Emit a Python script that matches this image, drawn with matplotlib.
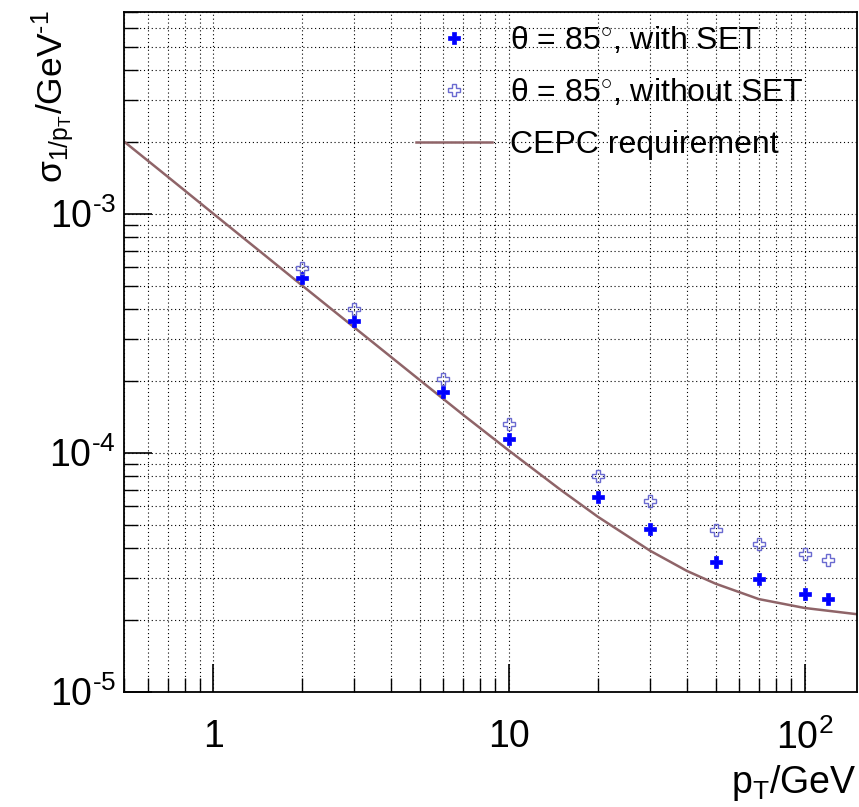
import numpy as np
import matplotlib
matplotlib.use("Agg")
import matplotlib.pyplot as plt
from matplotlib.ticker import FixedLocator, FixedFormatter, NullFormatter

plt.rcParams['font.family'] = ['Liberation Sans', 'DejaVu Sans']
plt.rcParams['mathtext.fontset'] = 'custom'
plt.rcParams['mathtext.rm'] = 'Liberation Sans'
plt.rcParams['mathtext.it'] = 'Liberation Sans:italic'
plt.rcParams['mathtext.bf'] = 'Liberation Sans:bold'

# pT points (GeV)
pt = [2, 3, 6, 10, 20, 30, 50, 70, 100, 120]
# resolution with SET
res_set = [5.4e-4, 3.55e-4, 1.8e-4, 1.14e-4, 6.5e-5, 4.8e-5, 3.5e-5, 2.96e-5, 2.56e-5, 2.44e-5]
# resolution without SET
res_noset = [5.9e-4, 3.98e-4, 2.03e-4, 1.32e-4, 8.0e-5, 6.25e-5, 4.77e-5, 4.14e-5, 3.76e-5, 3.55e-5]

# CEPC requirement curve
req_pt = [0.5, 0.7, 1, 1.5, 2, 3, 5, 7, 10, 15, 20, 30, 40, 50, 70, 100, 150]
req_res = [2.0e-3, 1.43e-3, 1.0e-3, 6.67e-4, 5.0e-4, 3.34e-4, 2.01e-4, 1.44e-4,
           1.02e-4, 6.97e-5, 5.39e-5, 3.89e-5, 3.2e-5, 2.83e-5, 2.44e-5, 2.24e-5, 2.11e-5]

labels = [r'θ = 85$^{\circ}$, with SET', r'θ = 85$^{\circ}$, without SET', 'CEPC requirement']

xticks = [1, 10, 100]
xtick_labels = ['1', '10', r'10$^{\mathrm{2}}$']
yticks = [1e-5, 1e-4, 1e-3]
ytick_labels = [r'10$^{\text{-}\mathrm{5}}$', r'10$^{\text{-}\mathrm{4}}$', r'10$^{\text{-}\mathrm{3}}$']

fig = plt.figure(figsize=(8.59, 8.07), dpi=100)
ax = fig.add_axes([0.1447, 0.1429, 0.8526, 0.8426])
ax.set_xscale('log')
ax.set_yscale('log')
ax.set_xlim(0.5, 150)
ax.set_ylim(1e-5, 7e-3)

# minor ticks 2..9 per decade
xminor = [m * 10.0**e for e in range(-1, 3) for m in range(2, 10)]
yminor = [m * 10.0**e for e in range(-5, -2) for m in range(2, 10)]

ax.xaxis.set_major_locator(FixedLocator(xticks))
ax.xaxis.set_major_formatter(FixedFormatter(xtick_labels))
ax.xaxis.set_minor_locator(FixedLocator(xminor))
ax.xaxis.set_minor_formatter(NullFormatter())
ax.yaxis.set_major_locator(FixedLocator(yticks))
ax.yaxis.set_major_formatter(FixedFormatter(ytick_labels))
ax.yaxis.set_minor_locator(FixedLocator(yminor))
ax.yaxis.set_minor_formatter(NullFormatter())

ax.grid(True, which='both', color='black', linestyle=(0, (1, 2.5)), linewidth=0.8)
ax.set_axisbelow(True)

ax.tick_params(which='major', direction='in', length=20, width=1.2, labelsize=27)
ax.tick_params(which='minor', direction='in', length=10, width=1.0)
ax.tick_params(axis='x', which='major', pad=20)
ax.tick_params(axis='y', which='major', pad=6)
for s in ax.spines.values():
    s.set_linewidth(1.3)

ax.plot(req_pt, req_res, color='#8f6468', linewidth=1.8, label=labels[2], zorder=2)
ax.plot(pt, res_set, linestyle='none', marker='P', markersize=9, color='#0000ff',
        markeredgewidth=0.5, label=labels[0], zorder=3)
ax.plot(pt, res_noset, linestyle='none', marker='P', markersize=9, markerfacecolor='none',
        markeredgecolor='#6a6ad0', markeredgewidth=1.0, label=labels[1], zorder=3)

h, l = ax.get_legend_handles_labels()
leg = ax.legend([h[1], h[2], h[0]], [l[1], l[2], l[0]], loc='upper left',
                bbox_to_anchor=(0.376, 1.004), frameon=False, fontsize=23,
                handlelength=2.4, handletextpad=0.56, labelspacing=0.67, borderpad=0.0)

ax.set_xlabel(r'p$_{\mathrm{T}}$/GeV', fontsize=27, loc='right', labelpad=4)
ax.set_ylabel(r'σ$_{\mathrm{1/p_{T}}}$/GeV$^{\text{-}\mathrm{1}}$', fontsize=25.5, loc='top')
ax.yaxis.set_label_coords(-0.064, 1.0025)

fig.savefig('out.png', dpi=100)
